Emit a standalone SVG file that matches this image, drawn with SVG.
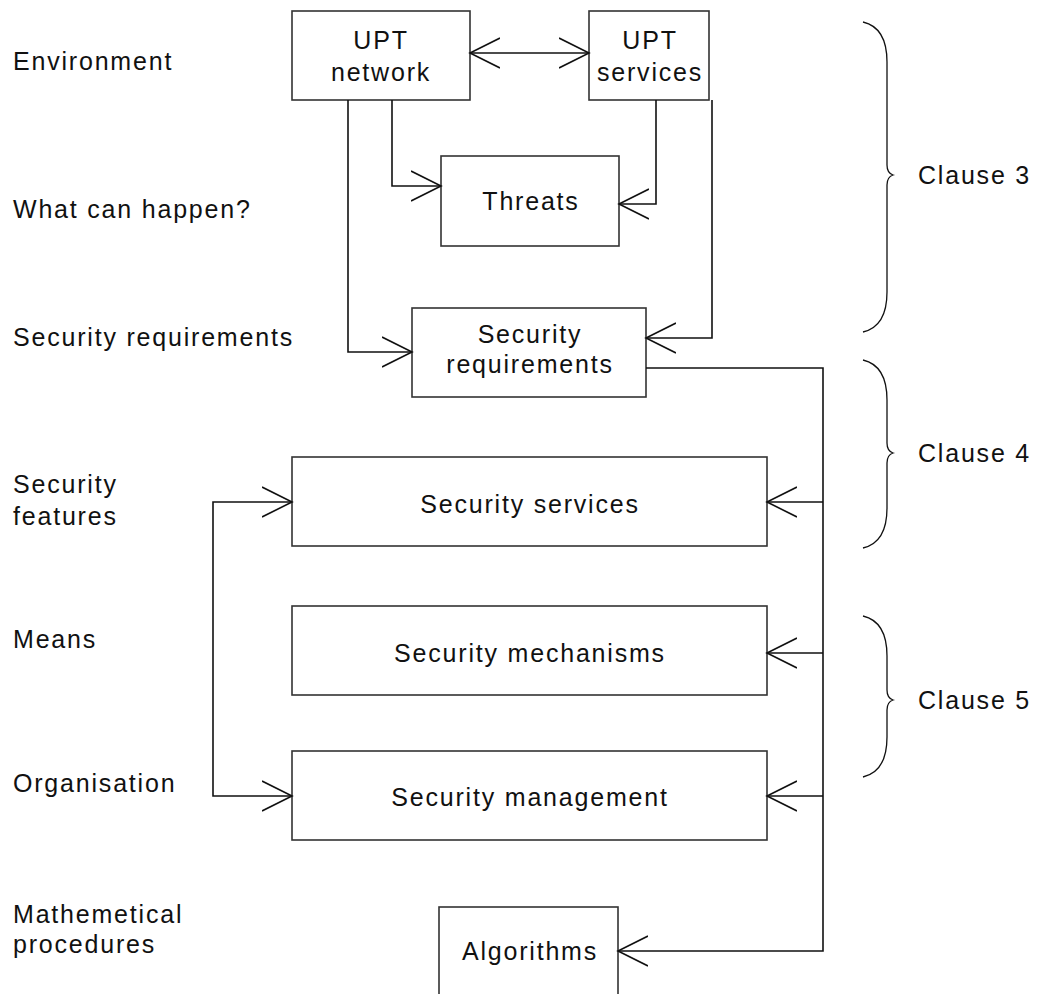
<svg xmlns="http://www.w3.org/2000/svg" width="1044" height="994" viewBox="0 0 1044 994">
  <style>
    text { font-family: "Liberation Sans", Arial, sans-serif; font-size: 25px; letter-spacing: 1.8px; fill: #111; }
    .c { text-anchor: middle; }
    .box { fill: #fff; stroke: #333; stroke-width: 1.6; }
    .ln { fill: none; stroke: #111; stroke-width: 1.6; }
    .brace { fill: none; stroke: #111; stroke-width: 1.3; }
  </style>
  <defs>
    <!-- open V arrowhead, tip at the line end -->
    <marker id="arr" viewBox="0 0 32 32" refX="30" refY="16" markerWidth="32" markerHeight="32" markerUnits="userSpaceOnUse" orient="auto-start-reverse">
      <path d="M0,1 L30,16 L0,31" fill="none" stroke="#111" stroke-width="1.6"/>
    </marker>
  </defs>
  <rect width="1044" height="994" fill="#fff"/>

  <!-- level labels -->
  <g id="labels">
    <text x="13" y="70">Environment</text>
    <text x="13" y="218">What can happen?</text>
    <text x="13" y="346">Security requirements</text>
    <text x="13" y="493">Security</text>
    <text x="13" y="525">features</text>
    <text x="13" y="648">Means</text>
    <text x="13" y="792">Organisation</text>
    <text x="13" y="923">Mathemetical</text>
    <text x="13" y="953">procedures</text>
  </g>

  <g id="node-upt-network">
    <rect class="box" x="292" y="11" width="178" height="89"/>
    <text class="c" x="381" y="49">UPT</text>
    <text class="c" x="381" y="81">network</text>
  </g>
  <g id="node-upt-services">
    <rect class="box" x="589" y="11" width="120" height="89"/>
    <text class="c" x="650" y="49">UPT</text>
    <text class="c" x="650" y="81">services</text>
  </g>
  <g id="node-threats">
    <rect class="box" x="441" y="156" width="178" height="90"/>
    <text class="c" x="531" y="210">Threats</text>
  </g>
  <g id="node-security-requirements">
    <rect class="box" x="412" y="308" width="234" height="89"/>
    <text class="c" x="530" y="343">Security</text>
    <text class="c" x="530" y="373">requirements</text>
  </g>
  <g id="node-security-services">
    <rect class="box" x="292" y="457" width="475" height="89"/>
    <text class="c" x="530" y="513">Security services</text>
  </g>
  <g id="node-security-mechanisms">
    <rect class="box" x="292" y="606" width="475" height="89"/>
    <text class="c" x="530" y="662">Security mechanisms</text>
  </g>
  <g id="node-security-management">
    <rect class="box" x="292" y="751" width="475" height="89"/>
    <text class="c" x="530" y="806">Security management</text>
  </g>
  <g id="node-algorithms">
    <rect class="box" x="439" y="907" width="179" height="100"/>
    <text class="c" x="530" y="960">Algorithms</text>
  </g>

  <g id="connectors">
    <path class="ln" d="M470,53 L589,53" marker-start="url(#arr)" marker-end="url(#arr)"/>
    <path class="ln" d="M392,100 L392,186 L441,186" marker-end="url(#arr)"/>
    <path class="ln" d="M656,100 L656,204 L619,204" marker-end="url(#arr)"/>
    <path class="ln" d="M348,100 L348,352 L412,352" marker-end="url(#arr)"/>
    <path class="ln" d="M712,100 L712,338 L646,338" marker-end="url(#arr)"/>
    <path class="ln" d="M646,368 L823,368 L823,951 L618,951" marker-end="url(#arr)"/>
    <path class="ln" d="M823,502 L767,502" marker-end="url(#arr)"/>
    <path class="ln" d="M823,653 L767,653" marker-end="url(#arr)"/>
    <path class="ln" d="M823,796 L767,796" marker-end="url(#arr)"/>
    <path class="ln" d="M292,502 L213,502 L213,796 L292,796" marker-start="url(#arr)" marker-end="url(#arr)"/>
  </g>

  <!-- clause braces -->
  <g id="clauses">
    <path class="brace" d="M863,22 C880,26 887,40 887,62 L887,165 Q887,173 893,175 Q887,177 887,185 L887,292 C887,314 880,328 863,332"/>
    <text x="918" y="184">Clause 3</text>
    <path class="brace" d="M863,360 C880,364 887,378 887,400 L887,443 Q887,451 893,453 Q887,455 887,463 L887,508 C887,530 880,544 863,548"/>
    <text x="918" y="462">Clause 4</text>
    <path class="brace" d="M863,616 C880,620 887,634 887,656 L887,690 Q887,698 893,700 Q887,702 887,710 L887,737 C887,759 880,773 863,777"/>
    <text x="918" y="709">Clause 5</text>
  </g>
</svg>
